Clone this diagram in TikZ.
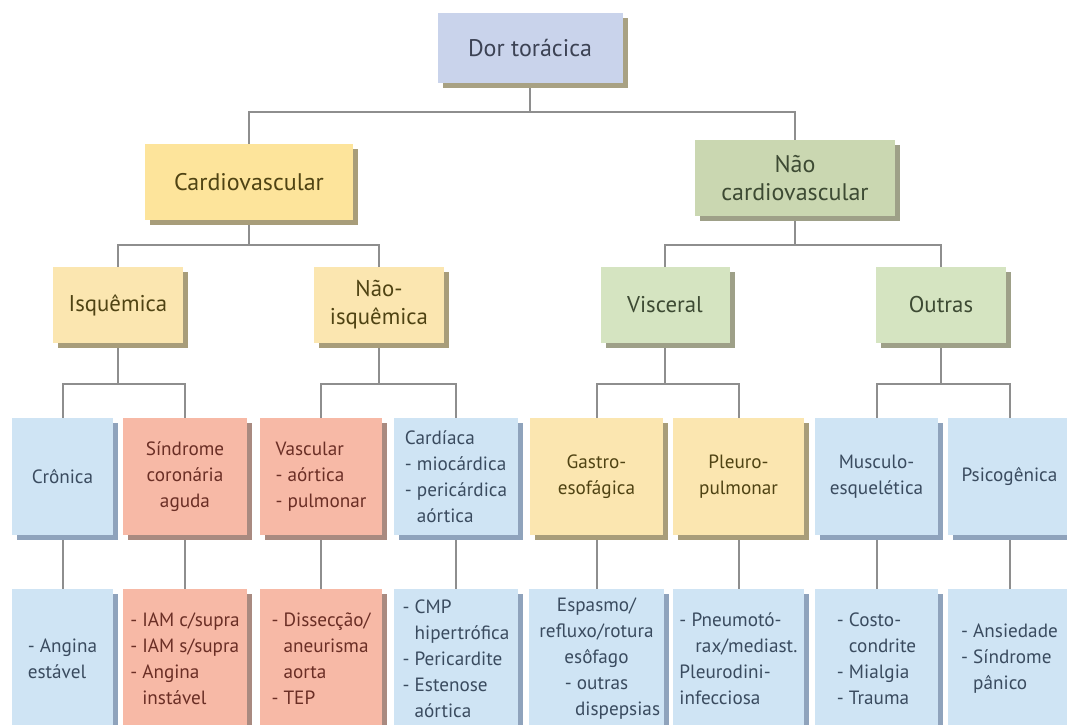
\documentclass[tikz,border=0pt]{standalone}
\usepackage{fontspec}
\setmainfont{PT Sans}
\usetikzlibrary{shadows, backgrounds}

\definecolor{lavfill}{HTML}{C9D3EB}
\definecolor{lavshad}{HTML}{A8A183}
\definecolor{lavtext}{HTML}{3C4254}
\definecolor{ylwfill}{HTML}{FDE49B}
\definecolor{ylwlfill}{HTML}{FBE6B0}
\definecolor{ylwshad}{HTML}{A89D7A}
\definecolor{ylwtext}{HTML}{4F4313}
\definecolor{grnfill}{HTML}{CAD7B1}
\definecolor{grnlfill}{HTML}{D5E4C1}
\definecolor{grnshad}{HTML}{9EA088}
\definecolor{grntext}{HTML}{3D4A33}
\definecolor{bluefill}{HTML}{CFE4F4}
\definecolor{blueshad}{HTML}{8FA3BC}
\definecolor{bluetext}{HTML}{3A4B5F}
\definecolor{salfill}{HTML}{F7B9A6}
\definecolor{salshad}{HTML}{A98A80}
\definecolor{saltext}{HTML}{6A2E25}
\definecolor{linegray}{HTML}{8E8E8E}

\tikzset{shad/.style={drop shadow={shadow xshift=2.5pt, shadow yshift=-2.5pt, fill=#1, opacity=1}}}
\tikzstyle{box} = [rectangle, inner sep=2pt, align=center]
\tikzstyle{lvA} = [box, minimum height=38pt, font=\fontsize{12}{13.75}\selectfont]
\tikzstyle{lvB} = [box, minimum height=38pt, font=\fontsize{11.4}{14}\selectfont]
\tikzstyle{lvC} = [box, minimum height=58.5pt, font=\fontsize{9.6}{13}\selectfont]
\tikzstyle{lvD} = [box, minimum height=70pt, font=\fontsize{9.6}{13}\selectfont]
\tikzstyle{lav} = [shad=lavshad, fill=lavfill, text=lavtext]
\tikzstyle{ylw} = [shad=ylwshad, fill=ylwfill, text=ylwtext]
\tikzstyle{ylwl} = [shad=ylwshad, fill=ylwlfill, text=ylwtext]
\tikzstyle{grn} = [shad=grnshad, fill=grnfill, text=grntext]
\tikzstyle{grnl} = [shad=grnshad, fill=grnlfill, text=grntext]
\tikzstyle{blu} = [shad=blueshad, fill=bluefill, text=bluetext]
\tikzstyle{sal} = [shad=salshad, fill=salfill, text=saltext]
\tikzstyle{line} = [draw, linegray, line width=1pt]

\newcommand{\ind}{\phantom{- }}

\begin{document}
\begin{tikzpicture}[x=0.5pt, y=-0.5pt]
			\path [use as bounding box, clip] (0,0) rectangle (1067,724);

			\node [lvA, lav, minimum width=92.5pt, minimum height=35pt] (dor) at (530, 48) {Dor torácica};
			\node [lvA, ylw, minimum width=104pt] (cv) at (249, 182) {Cardiovascular};
			\node [lvA, grn, minimum width=100pt] (ncv) at (795, 178) {Não\\cardiovascular};

			\node [lvB, ylwl, minimum width=65pt] (isq) at (118, 305) {Isquêmica};
			\node [lvB, ylwl, minimum width=65pt] (niq) at (379, 305) {Não-\\isquêmica};
			\node [lvB, grnl, minimum width=64.5pt] (visc) at (665, 305) {Visceral};
			\node [lvB, grnl, minimum width=65pt] (outr) at (941, 305) {Outras};

			\node [lvC, blu, minimum width=50.5pt] (cron) at (62.5, 476.5) {Crônica};
			\node [lvC, sal, minimum width=62pt] (sca) at (185, 476.5) {Síndrome\\coronária\\aguda};
			\node [lvC, sal, minimum width=61pt, align=left] (vasc) at (321, 476.5) {Vascular\\- aórtica\\- pulmonar};
			\node [lvC, blu, minimum width=62pt, align=left] (card) at (456, 476.5) {Cardíaca\\- miocárdica\\- pericárdica\\\ind aórtica};
			\node [lvC, ylwl, minimum width=66.5pt] (gastro) at (596.5, 476.5) {Gastro-\\esofágica};
			\node [lvC, ylwl, minimum width=65.5pt] (pleuro) at (738.5, 476.5) {Pleuro-\\pulmonar};
			\node [lvC, blu, minimum width=61.5pt] (musc) at (876.5, 476.5) {Musculo-\\esquelética};
			\node [lvC, blu, minimum width=61.5pt] (psico) at (1009.5, 476.5) {Psicogênica};

			\node [lvD, blu, minimum width=50.5pt, align=left] (angina) at (62.5, 659) {- Angina\\estável};
			\node [lvD, sal, minimum width=62pt, align=left] (iam) at (185, 659) {- IAM c/supra\\- IAM s/supra\\- Angina\\\ind instável};
			\node [lvD, sal, minimum width=61pt, align=left] (dissec) at (321, 659) {- Dissecção/\\\ind aneurisma\\\ind aorta\\- TEP};
			\node [lvD, blu, minimum width=62pt, align=left] (cmp) at (456, 659) {- CMP\\\ind hipertrófica\\- Pericardite\\- Estenose\\\ind aórtica};
			\node [lvD, blu, minimum width=66.5pt] (esof) at (596.5, 659) {Espasmo/\\refluxo/rotura\\esôfago\\- outras\\\hspace*{2.2em}dispepsias};
			\node [lvD, blu, minimum width=65.5pt, align=left] (pneumo) at (738.5, 659) {- Pneumotó-\\\hspace*{8pt}rax/mediast.\\Pleurodini-\\infecciosa};
			\node [lvD, blu, minimum width=61.5pt, align=left] (costo) at (876.5, 659) {- Costo-\\\ind condrite\\- Mialgia\\- Trauma};
			\node [lvD, blu, minimum width=61.5pt, align=left] (ansied) at (1009.5, 659) {- Ansiedade\\- Síndrome\\\ind pânico};

			\coordinate (jdor) at (530, 112);
			\coordinate (jcv) at (249, 245);
			\coordinate (jncv) at (795, 245);
			\coordinate (jisq) at (118, 384);
			\coordinate (jniq) at (379, 384);
			\coordinate (jvisc) at (665, 384);
			\coordinate (joutr) at (941, 384);

			\begin{scope}[on background layer]
			\fill [white] (0,0) rectangle (1067,724);
			\path [line] (dor.south) -- (jdor) -| (cv.north);
			\path [line] (jdor) -| (ncv.north);
			\path [line] (cv.south) -- (jcv) -| (isq.north);
			\path [line] (jcv) -| (niq.north);
			\path [line] (ncv.south) -- (jncv) -| (visc.north);
			\path [line] (jncv) -| (outr.north);
			\path [line] (isq.south) -- (jisq) -| (cron.north);
			\path [line] (jisq) -| (sca.north);
			\path [line] (niq.south) -- (jniq) -| (vasc.north);
			\path [line] (jniq) -| (card.north);
			\path [line] (visc.south) -- (jvisc) -| (gastro.north);
			\path [line] (jvisc) -| (pleuro.north);
			\path [line] (outr.south) -- (joutr) -| (musc.north);
			\path [line] (joutr) -| (psico.north);

			\path [line] (cron) -- (angina);
			\path [line] (sca) -- (iam);
			\path [line] (vasc) -- (dissec);
			\path [line] (card) -- (cmp);
			\path [line] (gastro) -- (esof);
			\path [line] (pleuro) -- (pneumo);
			\path [line] (musc) -- (costo);
			\path [line] (psico) -- (ansied);
			\end{scope}
		\end{tikzpicture}
\end{document}
